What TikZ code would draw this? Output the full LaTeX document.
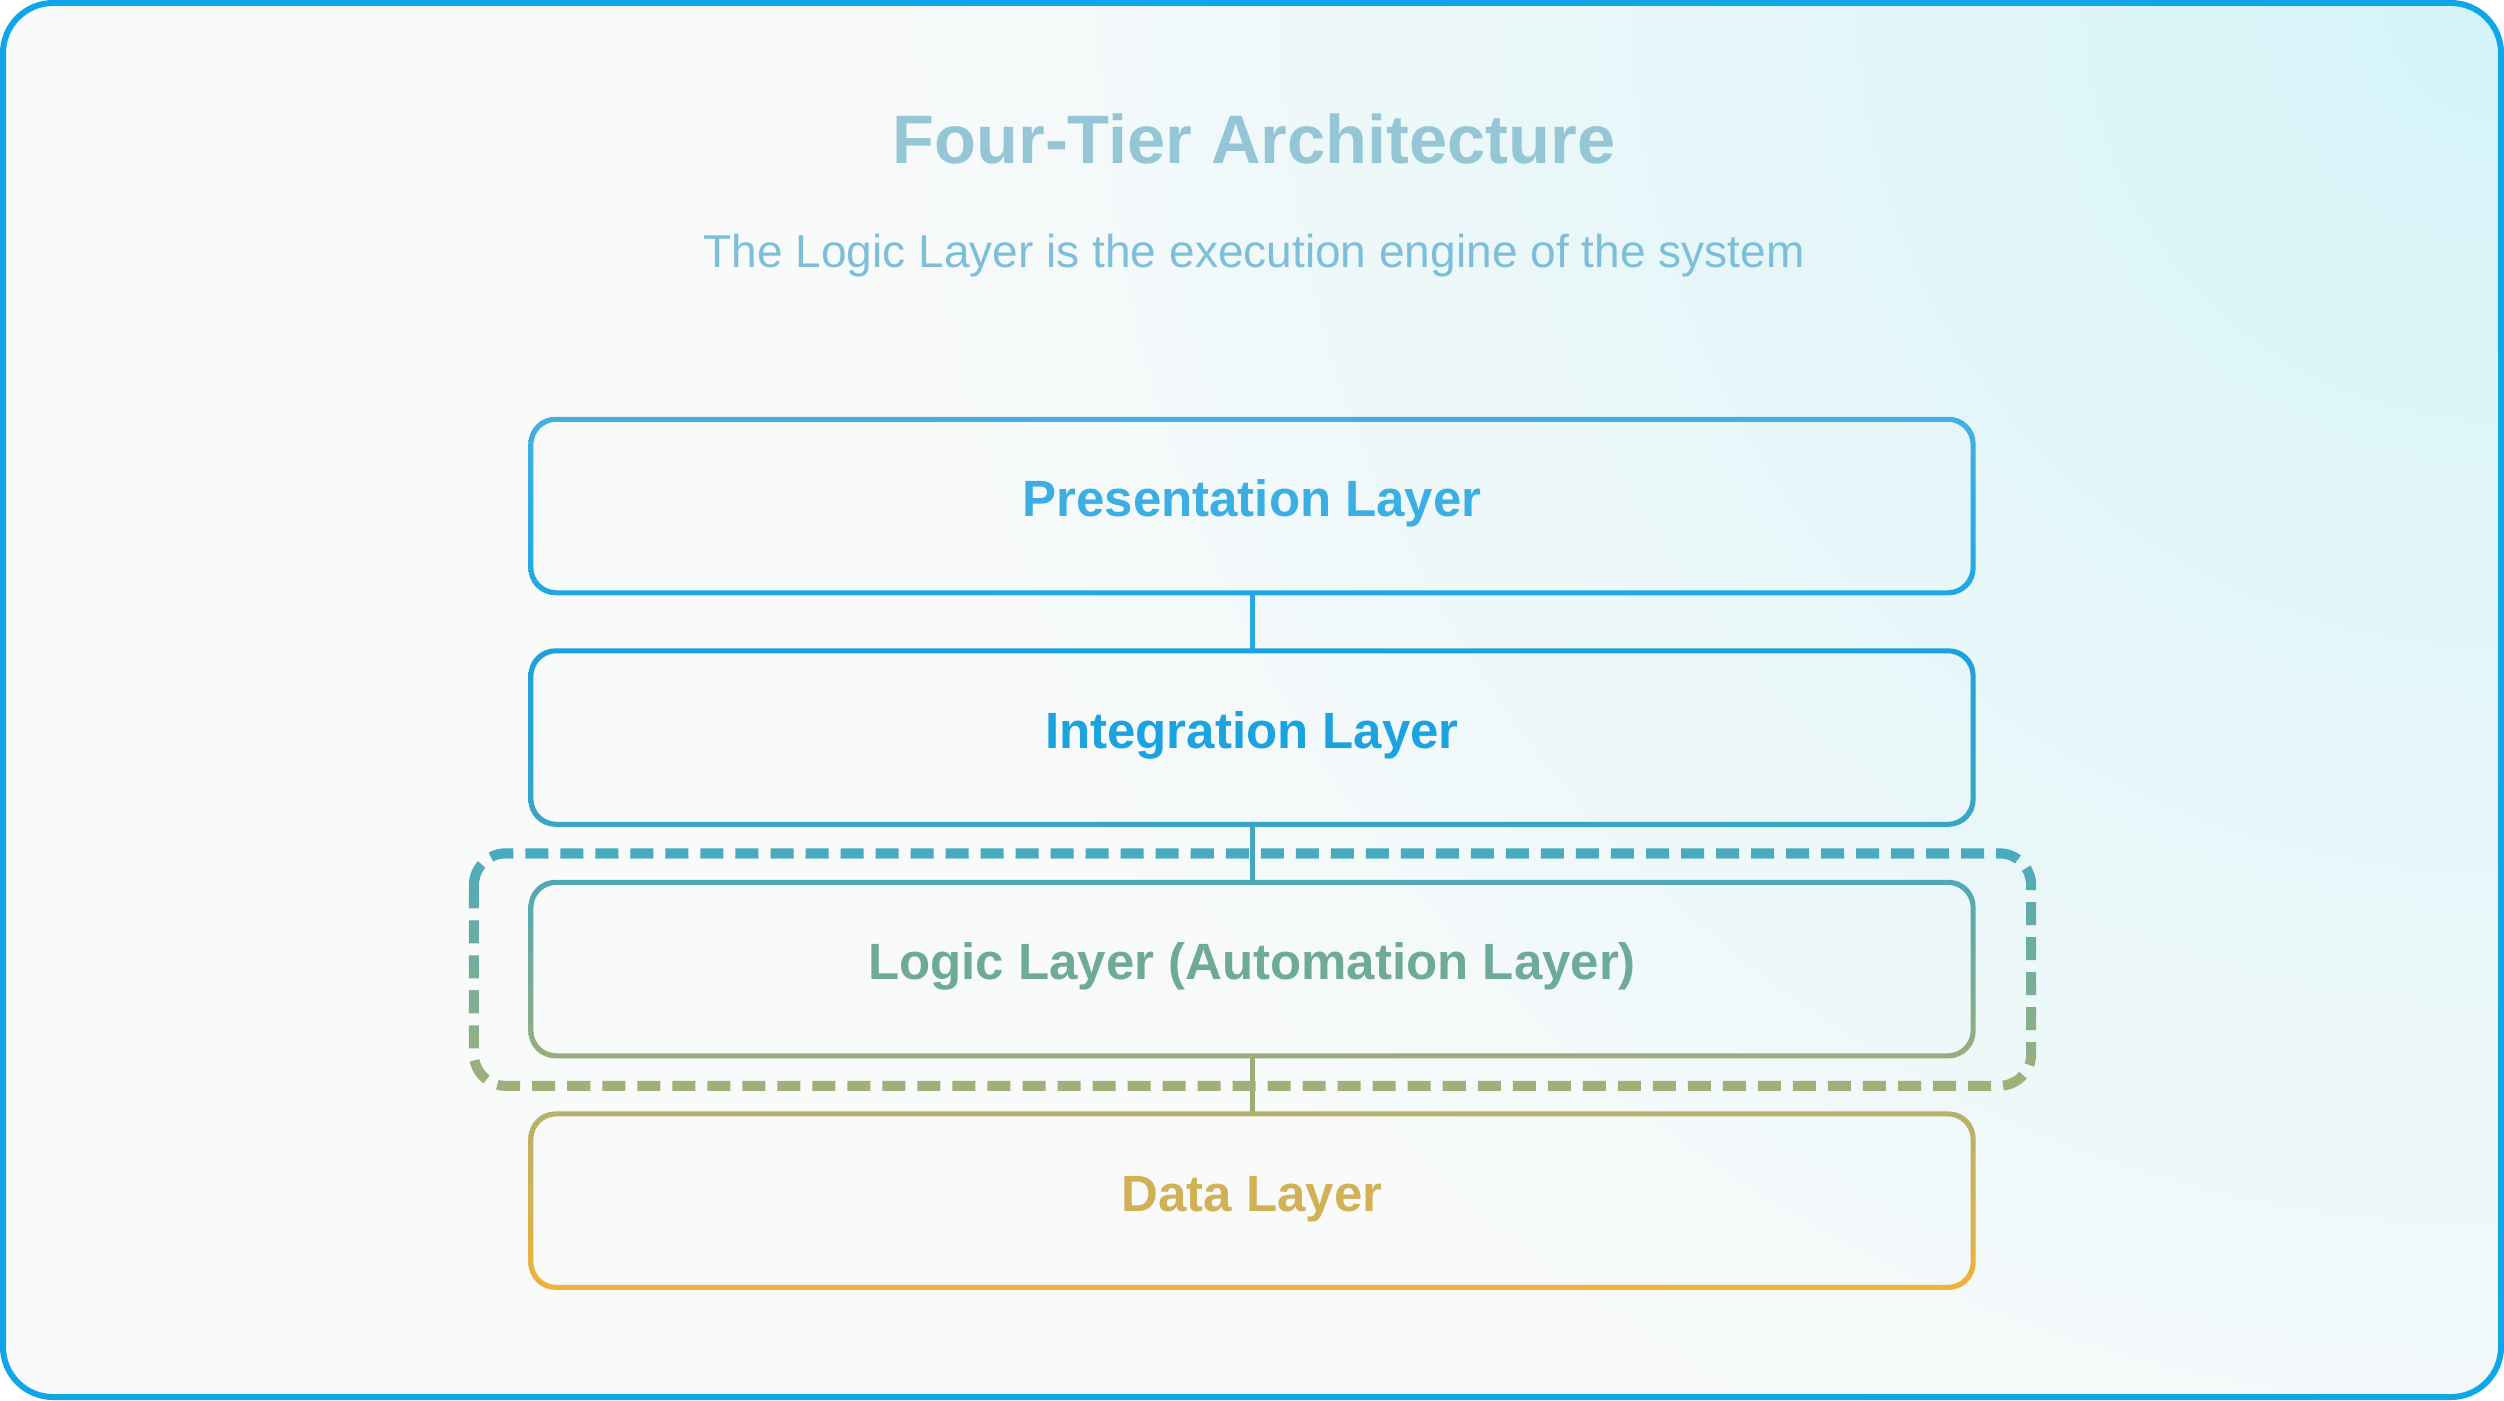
\documentclass[tikz,border=0pt]{standalone}
\usepackage{fontspec}
\setmainfont{Liberation Sans}
\usetikzlibrary{positioning}

\definecolor{framecol}{HTML}{0EA5E9}
\definecolor{bgbase}{HTML}{F9FAFA}
\definecolor{bgcyan}{HTML}{D4F3F8}
\definecolor{titlecol}{HTML}{95C6D6}
\definecolor{subcol}{HTML}{7DBFD8}
% layer rings, top and bottom colour
\definecolor{presA}{HTML}{45B0DF}
\definecolor{presB}{HTML}{1DA8E6}
\definecolor{integA}{HTML}{1AA2DC}
\definecolor{integB}{HTML}{3AA5C5}
\definecolor{logicA}{HTML}{4FA8B8}
\definecolor{logicB}{HTML}{98AE7C}
\definecolor{dataA}{HTML}{B4B26C}
\definecolor{dataB}{HTML}{F0B23A}
% layer texts
\definecolor{presT}{HTML}{3BAFE3}
\definecolor{integT}{HTML}{1AA3DE}
\definecolor{logicT}{HTML}{6DAA98}
\definecolor{dataT}{HTML}{D2B055}
% dashed frame and links
\definecolor{dashtop}{HTML}{48AABF}
\definecolor{dashbot}{HTML}{A0B078}
\definecolor{linkA}{HTML}{2AA8E0}
\definecolor{linkB}{HTML}{45A6BD}
\definecolor{linkC}{HTML}{9CAE78}

% shaded ring round a layer node
\newcommand{\layerring}[3]{%
  \shade[even odd rule,top color=#2,bottom color=#3,rounded corners=0.27cm]
    ([shift={(-0.025cm,0.025cm)}]#1.north west) rectangle ([shift={(0.025cm,-0.025cm)}]#1.south east)
    [rounded corners=0.23cm]
    ([shift={(0.025cm,-0.025cm)}]#1.north west) rectangle ([shift={(-0.025cm,0.025cm)}]#1.south east);}

\begin{document}
\begin{tikzpicture}[x=0.01cm,y=-0.01cm,
	layer/.style={minimum width=14.4cm,minimum height=1.72cm,inner sep=0pt,
	  text height=0.72em,text depth=0.12em,font=\bfseries\fontsize{14.5}{17}\selectfont},
	link/.style={line width=0.05cm},
	dashbox/.style={line width=0.1cm,rounded corners=0.32cm,dash pattern=on 0.23cm off 0.12cm}]
	\useasboundingbox (0,0) rectangle (2504,1400);

	%background
	\begin{scope}
	  \clip[rounded corners=0.5cm] (3,3) rectangle (2501,1397);
	  \fill[bgbase] (0,0) rectangle (2504,1400);
	  \shade[inner color=bgcyan,outer color=bgbase] (2504,0) circle (1650); %cyan glow
	\end{scope}
	\draw[framecol,line width=0.06cm,rounded corners=0.5cm] (3,3) rectangle (2501,1397); %frame

	%titles
	\node[anchor=base,text=titlecol,font=\bfseries\fontsize{19.5}{23}\selectfont] (title) at (1254,163) {Four-Tier Architecture};
	\node[anchor=base,text=subcol,font=\fontsize{13.1}{16}\selectfont] (subtitle) at (1254,267) {The Logic Layer is the execution engine of the system};

	%layers
	\node[layer,text=presT] (pres) at (1252,506) {Presentation Layer};
	\node[layer,text=integT,below=0.58cm of pres] (integ) {Integration Layer};
	\node[layer,text=logicT,below=0.58cm of integ] (logic) {Logic Layer (Automation Layer)};
	\node[layer,text=dataT,below=0.58cm of logic] (data) {Data Layer};

	%dashed frame round the logic layer
	\coordinate (dash nw) at ([shift={(-0.57cm,0.29cm)}]logic.north west);
	\coordinate (dash se) at ([shift={(0.58cm,-0.30cm)}]logic.south east);
	\foreach \i in {0,...,11} {
	  \pgfmathtruncatemacro{\p}{100-\i*100/11}
	  \begin{scope}
	    \clip (400,{835+\i*22}) rectangle (2100,{858+\i*22});
	    \draw[dashbox,draw=dashtop!\p!dashbot] (dash nw) rectangle (dash se);
	  \end{scope}
	}

	%links
	\draw[link,linkA] (pres.south) -- (integ.north);
	\draw[link,linkB] (integ.south) -- (logic.north);
	\draw[link,linkC] (logic.south) -- (data.north);

	%rings
	\layerring{pres}{presA}{presB}
	\layerring{integ}{integA}{integB}
	\layerring{logic}{logicA}{logicB}
	\layerring{data}{dataA}{dataB}
\end{tikzpicture}
\end{document}
